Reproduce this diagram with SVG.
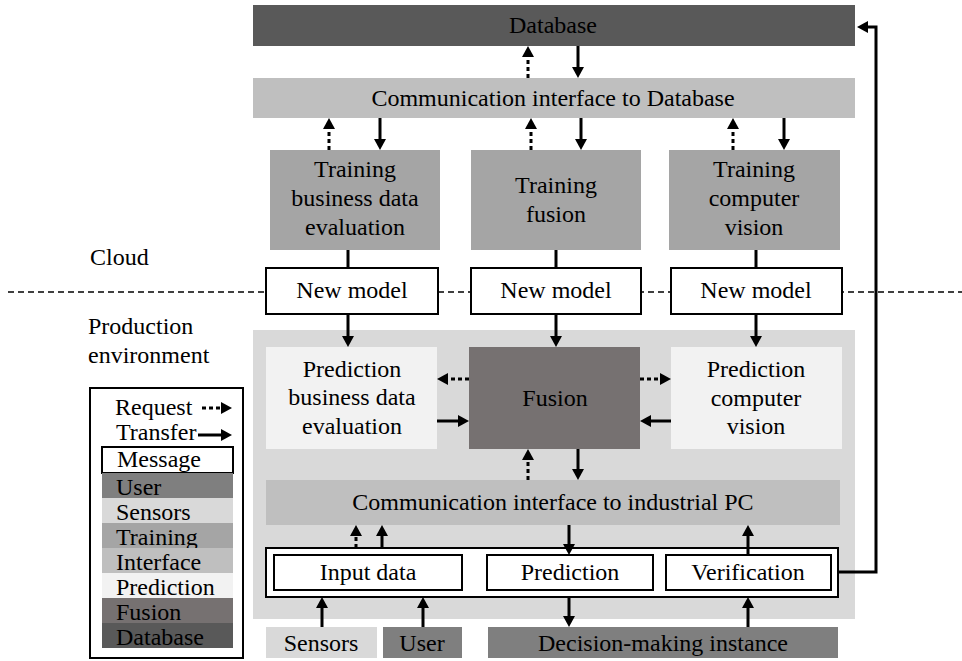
<svg xmlns="http://www.w3.org/2000/svg" width="962" height="661" viewBox="0 0 962 661">
  <style>
    text { font-family: "Liberation Serif", "Times New Roman", serif; font-size: 24px; fill: #000; }
    .c { text-anchor: middle; }
    .db { fill: #595959; }
    .iface { fill: #bfbfbf; }
    .train { fill: #a5a5a5; }
    .pred { fill: #f2f2f2; }
    .fusion { fill: #767171; }
    .user { fill: #7f7f7f; }
    .sensor { fill: #d9d9d9; }
    .env { fill: #d9d9d9; }
    .msg { fill: #fff; stroke: #000; stroke-width: 2; }
    .solid { stroke: #000; stroke-width: 3; fill: none; marker-end: url(#head); }
    .dotted { stroke: #000; stroke-width: 3; fill: none; stroke-dasharray: 4 3; marker-end: url(#head); }
    .plain { stroke: #000; stroke-width: 3; fill: none; }
    .split { stroke: #000; stroke-width: 1.3; stroke-dasharray: 6 4; fill: none; }
  </style>
  <defs>
    <marker id="head" markerUnits="userSpaceOnUse" markerWidth="11" markerHeight="12" viewBox="0 0 11 12" refX="3" refY="6" orient="auto">
      <path d="M0,0 L11,6 L0,12 z" fill="#000"/>
    </marker>
  </defs>

  <!-- production environment background -->
  <rect class="env" x="253" y="330" width="602" height="289"/>

  <!-- cloud / production boundary -->
  <line class="split" x1="8" y1="292" x2="962" y2="292"/>
  <text x="90" y="265">Cloud</text>
  <text x="88" y="334">Production</text>
  <text x="88" y="363">environment</text>

  <g id="database">
    <rect class="db" x="253" y="5" width="602" height="41"/>
    <text class="c" x="553" y="33">Database</text>
  </g>
  <g id="comm-db">
    <rect class="iface" x="253" y="78" width="602" height="40"/>
    <text class="c" x="553" y="106">Communication interface to Database</text>
  </g>

  <g id="train-bde">
    <rect class="train" x="270" y="150" width="170" height="100"/>
    <text class="c" x="355" y="177">Training</text>
    <text class="c" x="355" y="206">business data</text>
    <text class="c" x="355" y="235">evaluation</text>
  </g>
  <g id="train-fusion">
    <rect class="train" x="471" y="150" width="170" height="100"/>
    <text class="c" x="556" y="193">Training</text>
    <text class="c" x="556" y="222">fusion</text>
  </g>
  <g id="train-cv">
    <rect class="train" x="669" y="150" width="171" height="100"/>
    <text class="c" x="754" y="177">Training</text>
    <text class="c" x="754" y="206">computer</text>
    <text class="c" x="754" y="235">vision</text>
  </g>

  <g id="model-bde">
    <rect class="msg" x="266" y="268" width="172" height="46"/>
    <text class="c" x="352" y="298">New model</text>
  </g>
  <g id="model-fusion">
    <rect class="msg" x="471" y="268" width="170" height="46"/>
    <text class="c" x="556" y="298">New model</text>
  </g>
  <g id="model-cv">
    <rect class="msg" x="671" y="268" width="171" height="46"/>
    <text class="c" x="756" y="298">New model</text>
  </g>

  <g id="pred-bde">
    <rect class="pred" x="266" y="347" width="171" height="102"/>
    <text class="c" x="352" y="377">Prediction</text>
    <text class="c" x="352" y="405">business data</text>
    <text class="c" x="352" y="434">evaluation</text>
  </g>
  <g id="fusion">
    <rect class="fusion" x="469" y="347" width="171" height="102"/>
    <text class="c" x="555" y="406">Fusion</text>
  </g>
  <g id="pred-cv">
    <rect class="pred" x="671" y="347" width="171" height="102"/>
    <text class="c" x="756" y="377">Prediction</text>
    <text class="c" x="756" y="406">computer</text>
    <text class="c" x="756" y="434">vision</text>
  </g>

  <g id="comm-ipc">
    <rect class="iface" x="266" y="480" width="574" height="45"/>
    <text class="c" x="553" y="510">Communication interface to industrial PC</text>
  </g>

  <g id="messages">
    <rect class="msg" x="266" y="548" width="572" height="49"/>
    <g id="input-data">
      <rect class="msg" x="274" y="555" width="188" height="35"/>
      <text class="c" x="368" y="580">Input data</text>
    </g>
    <g id="prediction">
      <rect class="msg" x="487" y="555" width="166" height="35"/>
      <text class="c" x="570" y="580">Prediction</text>
    </g>
    <g id="verification">
      <rect class="msg" x="666" y="555" width="165" height="35"/>
      <text class="c" x="748" y="580">Verification</text>
    </g>
  </g>

  <g id="sensors">
    <rect class="sensor" x="266" y="627" width="111" height="31"/>
    <text class="c" x="321" y="651">Sensors</text>
  </g>
  <g id="user">
    <rect class="user" x="383" y="627" width="79" height="31"/>
    <text class="c" x="422" y="651">User</text>
  </g>
  <g id="decision">
    <rect class="user" x="488" y="627" width="350" height="31"/>
    <text class="c" x="663" y="651">Decision-making instance</text>
  </g>

  <g id="connectors">
    <!-- database link -->
    <line class="solid" x1="578" y1="46" x2="578" y2="70"/>
    <line class="dotted" x1="528" y1="78" x2="528" y2="54"/>
    <!-- training requests and transfers -->
    <line class="dotted" x1="329" y1="150" x2="329" y2="126"/>
    <line class="solid" x1="380" y1="118" x2="380" y2="142"/>
    <line class="dotted" x1="531" y1="150" x2="531" y2="126"/>
    <line class="solid" x1="581" y1="118" x2="581" y2="142"/>
    <line class="dotted" x1="733" y1="150" x2="733" y2="126"/>
    <line class="solid" x1="784" y1="118" x2="784" y2="142"/>
    <!-- training to new model -->
    <line class="plain" x1="348" y1="250" x2="348" y2="268"/>
    <line class="plain" x1="556" y1="250" x2="556" y2="268"/>
    <line class="plain" x1="756" y1="250" x2="756" y2="268"/>
    <!-- new model to prediction -->
    <line class="solid" x1="348" y1="314" x2="348" y2="339"/>
    <line class="solid" x1="556" y1="314" x2="556" y2="339"/>
    <line class="solid" x1="756" y1="314" x2="756" y2="339"/>
    <!-- fusion exchanges -->
    <line class="dotted" x1="469" y1="379" x2="445" y2="379"/>
    <line class="solid" x1="437" y1="421" x2="461" y2="421"/>
    <line class="dotted" x1="640" y1="379" x2="663" y2="379"/>
    <line class="solid" x1="671" y1="421" x2="648" y2="421"/>
    <line class="dotted" x1="528" y1="480" x2="528" y2="457"/>
    <line class="solid" x1="578" y1="449" x2="578" y2="472"/>
    <!-- industrial PC interface -->
    <line class="dotted" x1="356" y1="548" x2="356" y2="533"/>
    <line class="solid" x1="382" y1="548" x2="382" y2="533"/>
    <line class="solid" x1="569" y1="525" x2="569" y2="547"/>
    <line class="solid" x1="748" y1="555" x2="748" y2="533"/>
    <!-- shop floor -->
    <line class="solid" x1="569" y1="597" x2="569" y2="619"/>
    <line class="solid" x1="748" y1="627" x2="748" y2="605"/>
    <line class="solid" x1="322" y1="627" x2="322" y2="605"/>
    <line class="solid" x1="423" y1="627" x2="423" y2="605"/>
    <!-- verification feedback to database -->
    <path class="solid" d="M838,572 H876 V27 H865"/>
  </g>

  <g id="legend">
    <rect x="90" y="388" width="153" height="270" fill="#fff" stroke="#000" stroke-width="2"/>
    <text x="115" y="415">Request</text>
    <line class="dotted" x1="202" y1="408" x2="224" y2="408"/>
    <text x="116" y="440">Transfer</text>
    <line class="solid" x1="198" y1="435" x2="224" y2="435"/>
    <rect class="msg" x="102" y="447" width="131" height="26"/>
    <text x="117" y="467">Message</text>
    <rect class="user" x="102" y="473" width="131" height="25"/>
    <text x="116" y="495">User</text>
    <rect class="sensor" x="102" y="498" width="131" height="25"/>
    <text x="116" y="520">Sensors</text>
    <rect class="train" x="102" y="523" width="131" height="25"/>
    <text x="116" y="545">Training</text>
    <rect class="iface" x="102" y="548" width="131" height="25"/>
    <text x="116" y="570">Interface</text>
    <rect class="pred" x="102" y="573" width="131" height="25"/>
    <text x="116" y="595">Prediction</text>
    <rect class="fusion" x="102" y="598" width="131" height="25"/>
    <text x="116" y="620">Fusion</text>
    <rect class="db" x="102" y="623" width="131" height="25"/>
    <text x="116" y="645">Database</text>
  </g>
</svg>
